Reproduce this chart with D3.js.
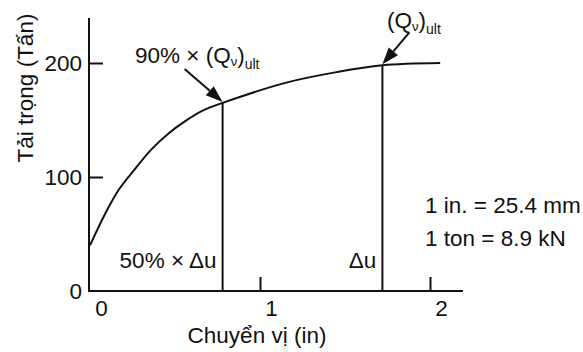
<!DOCTYPE html>
<html>
<head>
<meta charset="utf-8">
<script src="https://cdn.jsdelivr.net/npm/d3@7"></script>
<style>
  body { margin: 0; background: #fff; }
  svg text { font-family: "Liberation Sans", Arial, sans-serif; fill: #111; }
</style>
</head>
<body>
<script>
// load-settlement curve
var dispIn = [0, 0.09, 0.17, 0.27, 0.36, 0.46, 0.56, 0.66, 0.78, 1.16, 1.45, 1.72, 2.06];
var loadTon = [40, 68, 89, 108, 124, 138, 149, 158, 165, 183, 192, 198, 200];

// marked points: 50% x du with 90% Qult, and du with Qult
var markDisp = [0.78, 1.72];
var markLoad = [165, 198];
var markLabels = ["50% \u00d7 \u0394u", "\u0394u"];

var xTicks = [0, 1, 2];
var yTicks = [0, 100, 200];
var unitNotes = ["1 in. = 25.4 mm", "1 ton = 8.9 kN"];

var W = 583, H = 352;
var svg = d3.select("body").append("svg")
  .attr("width", W).attr("height", H);

var x = d3.scaleLinear().domain([0, 2]).range([90, 430]);
var y = d3.scaleLinear().domain([0, 200]).range([291, 63]);

var ink = "#111";
var fs = 22.5;

// axes (ticks point inward)
var yAxis = svg.append("g")
  .attr("transform", "translate(89,0)")
  .call(d3.axisLeft(y).tickValues(yTicks).tickFormat(d3.format("d"))
    .tickSize(-14).tickPadding(7));
yAxis.select(".domain").remove();
yAxis.selectAll("line").attr("stroke", ink).attr("stroke-width", 2);
yAxis.selectAll("text").attr("font-size", fs).attr("font-family", null).style("fill", ink);
yAxis.selectAll(".tick").filter(function (d) { return d === 0; }).select("line").remove();

var xAxis = svg.append("g")
  .attr("transform", "translate(0,291)")
  .call(d3.axisBottom(x).tickValues(xTicks).tickFormat(d3.format("d"))
    .tickSize(-14).tickPadding(9));
xAxis.select(".domain").remove();
xAxis.selectAll("line").attr("stroke", ink).attr("stroke-width", 2);
xAxis.selectAll(".tick").filter(function (d) { return d === 0; }).select("line").remove();
xAxis.selectAll("text").attr("font-size", fs).attr("font-family", null)
  .attr("x", 11).style("fill", ink);

svg.append("line").attr("x1", 89).attr("x2", 89).attr("y1", 18).attr("y2", 292)
  .attr("stroke", ink).attr("stroke-width", 2);
svg.append("line").attr("x1", 88).attr("x2", 463).attr("y1", 291).attr("y2", 291)
  .attr("stroke", ink).attr("stroke-width", 2);

// axis titles
svg.append("text")
  .attr("transform", "translate(33,88) rotate(-90)")
  .attr("text-anchor", "middle").attr("font-size", fs)
  .text("T\u1ea3i tr\u1ecdng (T\u1ea5n)");
svg.append("text")
  .attr("x", 257).attr("y", 343)
  .attr("text-anchor", "middle").attr("font-size", fs)
  .text("Chuy\u1ec3n v\u1ecb (in)");

// curve
var pts = dispIn.map(function (d, i) { return [d, loadTon[i]]; });
var line = d3.line()
  .x(function (d) { return x(d[0]); })
  .y(function (d) { return y(d[1]); })
  .curve(d3.curveCatmullRom.alpha(0.5));
svg.append("path").datum(pts)
  .attr("d", line)
  .attr("fill", "none").attr("stroke", ink).attr("stroke-width", 2);

// vertical markers
markDisp.forEach(function (d, i) {
  svg.append("line")
    .attr("x1", x(d)).attr("x2", x(d))
    .attr("y1", y(0)).attr("y2", y(markLoad[i]))
    .attr("stroke", ink).attr("stroke-width", 2);
  svg.append("text")
    .attr("x", x(d) - 6).attr("y", 268)
    .attr("text-anchor", "end").attr("font-size", fs)
    .text(markLabels[i]);
});

// arrows onto the curve
function arrow(tx, ty, dx, dy) {
  var sx = tx + dx, sy = ty + dy;
  var len = Math.sqrt(dx * dx + dy * dy);
  var ux = -dx / len, uy = -dy / len;
  var hl = 17, hw = 6;
  var bx = tx - ux * hl, by = ty - uy * hl;
  svg.append("line")
    .attr("x1", sx).attr("y1", sy).attr("x2", bx).attr("y2", by)
    .attr("stroke", ink).attr("stroke-width", 2);
  svg.append("path")
    .attr("d", "M" + tx + "," + ty +
      "L" + (bx - uy * hw) + "," + (by + ux * hw) +
      "L" + (bx + uy * hw) + "," + (by - ux * hw) + "Z")
    .attr("fill", ink);
}
arrow(x(markDisp[0]), y(markLoad[0]) - 1, -38, -33);
arrow(x(markDisp[1]), y(markLoad[1]) - 1, 27, -32);

// Q labels with subscripts
function qLabel(xp, yp, prefix) {
  var t = svg.append("text").attr("x", xp).attr("y", yp).attr("font-size", fs);
  if (prefix) t.append("tspan").text(prefix);
  t.append("tspan").text("(Q");
  t.append("tspan").attr("font-size", 13).attr("dy", 3).text("\u03bd");
  t.append("tspan").attr("dy", -3).text(")");
  t.append("tspan").attr("font-size", 14).attr("dy", 6).text("ult");
}
qLabel(135, 63, "90% \u00d7 ");
qLabel(387, 28, null);

// unit notes
svg.selectAll(".note").data(unitNotes).enter().append("text")
  .attr("class", "note")
  .attr("x", 425)
  .attr("y", function (d, i) { return 213 + i * 33; })
  .attr("font-size", fs)
  .text(function (d) { return d; });
</script>
</body>
</html>
